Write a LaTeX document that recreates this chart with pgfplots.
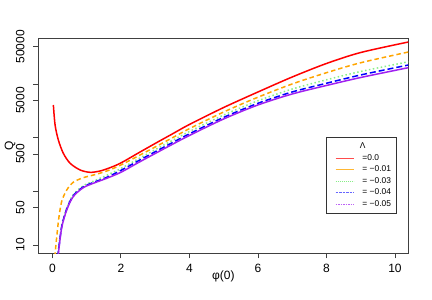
\documentclass[border=0pt]{standalone}
\usepackage{pgfplots}
\pgfplotsset{compat=1.18}
\usepackage{fontspec}
\setmainfont{Liberation Sans}
\definecolor{rorange}{HTML}{FFA500}
\definecolor{rgreen}{HTML}{88EE88}
\definecolor{rpurple}{HTML}{A020F0}
\begin{document}
\begin{tikzpicture}
\begin{axis}[name=ax, at={(0,0)}, anchor=south west,
  scale only axis, width=370bp, height=215bp,
  xmin=-0.41, xmax=10.39, ymode=log, ymin=7, ymax=71800,
  axis line style={black!75, line width=0.75bp},
  tick style={black!75, line width=0.75bp},
  tick align=outside, tick pos=left, major tick length=5bp,
  yminorticks=false,
  xtick={0,2,4,6,8,10}, xticklabels={0,2,4,6,8,10},
  ytick={10,50,100,500,1000,5000,10000,50000},
  yticklabels={10,50,,500,,5000,,50000},
  ticklabel style={font=\fontsize{12bp}{14bp}\selectfont, inner sep=0pt},
  xticklabel style={anchor=north},
  xticklabel shift=5.5bp,
  yticklabel style={rotate=90, anchor=south},
  yticklabel shift=8.5bp,
  xlabel={φ(0)}, ylabel={Q},
  every axis x label/.style={at={(axis description cs:0.5,0)}, anchor=center, yshift=-23.4bp,
    font=\fontsize{12bp}{14bp}\selectfont, inner sep=0pt},
  every axis y label/.style={at={(axis description cs:0,0.5)}, xshift=-28.3bp, rotate=90, anchor=center,
    font=\fontsize{12bp}{14bp}\selectfont, inner sep=0pt},
  legend style={at={(0.7768,0.5395)}, anchor=north west, draw=black!80, line width=0.5bp,
    inner xsep=5bp, inner ysep=5bp, row sep=3.5bp,
    font=\fontsize{8.4bp}{10bp}\selectfont,
    nodes={inner sep=0pt, text height=6.2bp, text depth=1.8bp}},
  legend cell align=left,
  legend image code/.code={\path (0bp,0bp) (31bp,0bp); \draw[#1, line width=0.6bp] (4.3bp,0bp) -- (22.3bp,0bp);},
]
\addlegendimage{empty legend}
\addlegendentry{\hspace*{-2.5bp}Λ\rule[-4.5bp]{0pt}{0pt}}
\addlegendimage{red!70}
\addlegendentry{=0.0}
\addlegendimage{rorange!80}
\addlegendentry{= −0.01}
\addlegendimage{rgreen, dash pattern=on 1bp off 1bp}
\addlegendentry{= −0.03}
\addlegendimage{blue!60, dash pattern=on 2.5bp off 1bp}
\addlegendentry{= −0.04}
\addlegendimage{rpurple!70, dash pattern=on 1.5bp off 1bp}
\addlegendentry{= −0.05}

% lambda = 0.0
\addplot[red, line width=1.5bp, smooth, tension=0.5, forget plot] coordinates {
(0.03,4090) (0.08,1733) (0.175,910) (0.32,514) (0.52,334) (0.81,251) (1.1,227)
(1.39,240) (1.685,277) (2,339) (2.5,516) (3,783) (3.5,1178) (4,1771) (5,3673)
(6,7145) (7,13610) (8,24320) (9,39000) (10.39,61200)};
% lambda = -0.01
\addplot[rorange, line width=1.5bp, smooth, tension=0.5, dash pattern=on 4.5bp off 3bp, forget plot] coordinates {
(0.07,6) (0.175,27) (0.27,64) (0.42,106) (0.61,148) (0.9,180) (1.2,202)
(1.59,240) (2,311) (2.5,456) (3,673) (3.5,997) (4,1479) (5,3027) (6,5715)
(7,10090) (8,16370) (9,25120) (10.39,39810)};
% lambda = -0.03
\addplot[rgreen, line width=1.5bp, smooth, tension=0.5, dash pattern=on 1.5bp off 2.5bp, forget plot] coordinates {
(0.15,6) (0.27,23) (0.42,49) (0.61,87) (0.9,127) (1.2,155) (1.59,200)
(2,267) (2.5,401) (3,600) (3.5,889) (4,1309) (5,2655) (6,4898) (7,8110)
(8,12080) (9,17260) (10.39,26180)};
% lambda = -0.04
\addplot[blue, line width=1.5bp, smooth, tension=0.5, dash pattern=on 6bp off 3bp, forget plot] coordinates {
(0.16,6) (0.27,21.5) (0.42,47) (0.61,83) (0.9,121) (1.2,147) (1.59,183)
(2,246) (2.5,369) (3,548) (3.5,809) (4,1186) (5,2404) (6,4395) (7,7160)
(8,10400) (9,14860) (10.39,22800)};
% lambda = -0.05
\addplot[rpurple, line width=1.5bp, smooth, tension=0.5, forget plot] coordinates {
(0.165,6) (0.27,20.5) (0.42,45) (0.61,80) (0.9,117) (1.2,142) (1.59,176)
(2,227) (2.5,342) (3,509) (3.5,753) (4,1104) (5,2244) (6,4093) (7,6564)
(8,9460) (9,13330) (10.39,20320)};
\end{axis}
\pgfresetboundingbox
\path (ax.south west) ++(-38.3bp,-46.7bp) rectangle ++(432bp,300bp);
\end{tikzpicture}
\end{document}
